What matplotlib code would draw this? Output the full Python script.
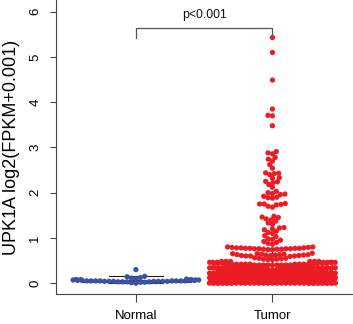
import numpy as np
import matplotlib
matplotlib.use("Agg")
import matplotlib.pyplot as plt

plt.rcParams['font.family'] = ['Liberation Sans', 'DejaVu Sans']

groups = ["Normal", "Tumor"]
ylabel = "UPK1A log2(FPKM+0.001)"
p_text = "p<0.001"
yticks = [0, 1, 2, 3, 4, 5, 6]

normal_values = [0.30, 0.15, 0.14, 0.12, 0.11, 0.10, 0.09, 0.08, 0.08, 0.08,
                 0.07, 0.07, 0.07, 0.06, 0.06, 0.06, 0.06, 0.05, 0.05, 0.05,
                 0.05, 0.05, 0.05, 0.05, 0.05, 0.04, 0.04, 0.04, 0.04, 0.04,
                 0.04, 0.04, 0.03, 0.03, 0.03, 0.03, 0.02, 0.02, 0.01, 0.00]

# dense low block of tumor values (level, count)
tumor_base_levels = [0.00, 0.02, 0.04, 0.06, 0.08, 0.10, 0.12, 0.14, 0.16, 0.18,
                     0.20, 0.22, 0.24, 0.26, 0.28, 0.30, 0.32, 0.34, 0.36, 0.38,
                     0.40, 0.42, 0.44, 0.46, 0.48]
tumor_base_counts = [40, 24, 22, 20, 20, 19, 18, 18, 17, 17,
                     16, 16, 15, 15, 14, 14, 12, 10, 10, 9,
                     9, 9, 8, 8, 6]

tumor_upper = [5.43, 5.10, 4.49, 3.85, 3.71, 3.70, 3.48,
               2.91, 2.88, 2.86, 2.78, 2.74, 2.70, 2.62, 2.54,
               2.44, 2.43, 2.42, 2.40, 2.33, 2.32, 2.25, 2.24, 2.22, 2.18, 2.12,
               2.03, 2.00, 1.98, 1.97, 1.96, 1.92, 1.90, 1.89, 1.88,
               1.76, 1.75, 1.75, 1.74, 1.73, 1.70, 1.68,
               1.48, 1.46, 1.45, 1.42, 1.40, 1.37, 1.33, 1.30,
               1.23, 1.22, 1.20, 1.18, 1.15, 1.12, 1.10, 1.05, 1.03,
               0.98, 0.97, 0.95, 0.92, 0.90, 0.88, 0.86,
               0.80, 0.80, 0.79, 0.79, 0.78, 0.78, 0.78, 0.77, 0.77, 0.77,
               0.77, 0.76, 0.76, 0.76, 0.76, 0.75, 0.75, 0.75, 0.74, 0.74,
               0.66, 0.65, 0.65, 0.64, 0.64, 0.63, 0.63, 0.63, 0.62, 0.62,
               0.62, 0.61, 0.61, 0.61, 0.60, 0.60, 0.60, 0.59,
               0.56, 0.55, 0.55, 0.54, 0.53, 0.53, 0.52, 0.52]

tumor_values = list(np.repeat(tumor_base_levels, tumor_base_counts)) + tumor_upper

# box statistics (mostly hidden under the points)
box_q1 = [0.03, 0.02]
box_med = [0.05, 0.12]
box_q3 = [0.07, 0.32]
box_whislo = [0.00, 0.00]
box_whishi = [0.15, 0.77]

colors = ["#3a53a4", "#ec1c24"]

W, H = 353, 324
fig = plt.figure(figsize=(W / 100, H / 100), dpi=100)
ax = fig.add_axes([56 / W, 30 / H, (W - 56) / W, (H - 30) / H])
ax.set_xlim(0.415, 2.59)
ax.set_ylim(-0.24, 6.26)

stats = [dict(q1=box_q1[i], med=box_med[i], q3=box_q3[i], whislo=box_whislo[i],
              whishi=box_whishi[i], fliers=[]) for i in range(2)]
ax.bxp(stats, positions=[1, 2], widths=0.8, showfliers=False, capwidths=0.4,
       boxprops=dict(color="#222222", linewidth=0.7),
       whiskerprops=dict(color="#222222", linewidth=0.7, linestyle="--"),
       capprops=dict(color="#222222", linewidth=0.8),
       medianprops=dict(color="#222222", linewidth=1.2),
       zorder=1)

d = 4.5          # point spacing in pixels
corral = 0.93    # corral width in data units


def swarm_offsets(yvals, xc):
    pts = ax.transData.transform(np.column_stack([np.full(len(yvals), xc), yvals]))
    ypx = pts[:, 1]
    order = np.argsort(ypx, kind="stable")
    xs = np.zeros(len(yvals))
    placed = []
    for i in order:
        yi = ypx[i]
        near = [j for j in placed if abs(ypx[j] - yi) < d]
        cands = [0.0]
        for j in near:
            dx = np.sqrt(d * d - (ypx[j] - yi) ** 2)
            cands.append(xs[j] + dx)
            cands.append(xs[j] - dx)
        cands = sorted(cands, key=lambda c: (abs(c), c))
        for c in cands:
            ok = True
            for j in near:
                if (c - xs[j]) ** 2 + (ypx[j] - yi) ** 2 < d * d - 1e-6:
                    ok = False
                    break
            if ok:
                xs[i] = c
                break
        placed.append(i)
    x0 = ax.transData.transform((xc, 0))[0]
    xdata = ax.transData.inverted().transform(
        np.column_stack([x0 + xs, ypx]))[:, 0] - xc
    half = corral / 2
    xdata = np.mod(xdata + half, corral) - half
    return xc + xdata


for k, vals in enumerate([normal_values, tumor_values]):
    xs = swarm_offsets(np.array(vals, dtype=float), k + 1)
    ax.scatter(xs, vals, s=14.5, color=colors[k], edgecolors="none", zorder=3)

# significance bracket
ax.plot([1, 1, 2, 2], [5.41, 5.64, 5.64, 5.48], color="#555555", linewidth=0.9,
        zorder=4, clip_on=False)
ax.text(1.5, 5.92, p_text, ha="center", va="center", fontsize=8.8, color="#111111")

for side in ["top", "right"]:
    ax.spines[side].set_visible(False)
for side in ["left", "bottom"]:
    ax.spines[side].set_color("#444444")
    ax.spines[side].set_linewidth(0.8)

ax.set_yticks(yticks)
ax.set_yticklabels([str(t) for t in yticks], rotation=90, va="center", fontsize=9.5)
ax.set_xticks([1, 2])
ax.set_xticklabels(groups, fontsize=9.5)
ax.tick_params(axis="y", length=4.5, width=0.8, color="#444444", pad=6)
ax.tick_params(axis="x", length=5.5, width=0.8, color="#444444", pad=6)
ax.set_ylabel(ylabel, fontsize=13)
ax.yaxis.set_label_coords(-0.121, 0.5)

fig.savefig("out.png", dpi=100)
